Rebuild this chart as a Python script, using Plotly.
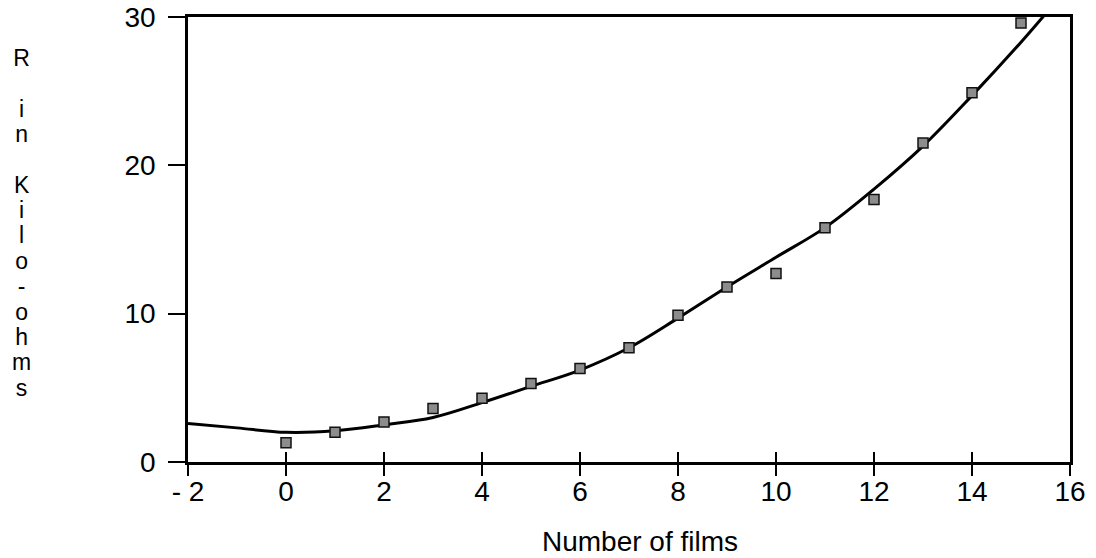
import plotly.graph_objects as go

# Measured data
films = [0, 1, 2, 3, 4, 5, 6, 7, 8, 9, 10, 11, 12, 13, 14, 15]
resistance = [1.3, 2.0, 2.7, 3.6, 4.3, 5.3, 6.3, 7.7, 9.9, 11.8, 12.7, 15.8, 17.7, 21.5, 24.9, 29.6]

# Fitted curve
fit_x = [-2, -1, 0, 1, 2, 3, 4, 5, 6, 7, 8, 9, 10, 11, 12, 13, 14, 15, 15.6]
fit_y = [2.6, 2.3, 2.0, 2.1, 2.5, 3.0, 4.0, 5.1, 6.2, 7.7, 9.7, 11.8, 13.8, 15.8, 18.4, 21.3, 24.7, 28.3, 30.6]

x_ticks = [-2, 0, 2, 4, 6, 8, 10, 12, 14, 16]
x_tick_text = ["- 2", "0", "2", "4", "6", "8", "10", "12", "14", "16"]
y_ticks = [0, 10, 20, 30]

x_title = "Number of films"
# stacked y title, one line per character ("" = blank line)
y_title_lines = ["R", "", "i", "n", "", "K", "i", "l", "o", "-", "o", "h", "m", "s"]

W, H = 1096, 558
ML, MR, MT, MB = 188, 26, 17, 96
plot_w = W - ML - MR
plot_h = H - MT - MB

font_main = "Liberation Sans, Arial, Helvetica, sans-serif"


def px_to_paper_x(px):
    return (px - ML) / plot_w


def px_to_paper_y(py):
    return (H - MB - py) / plot_h


fig = go.Figure()
fig.add_trace(go.Scatter(
    x=fit_x, y=fit_y, mode="lines",
    line=dict(color="black", width=3, shape="spline"),
    showlegend=False, hoverinfo="skip",
))
fig.add_trace(go.Scatter(
    x=films, y=resistance, mode="markers",
    marker=dict(symbol="square", size=10, color="#8c8c8c",
                line=dict(color="#111111", width=1.5)),
    showlegend=False,
))
# invisible trace on an overlay axis that carries the inward ticks
fig.add_trace(go.Scatter(x=[-2], y=[0], xaxis="x2", mode="markers",
                         marker=dict(opacity=0), showlegend=False, hoverinfo="skip"))

y_title_html = "<br>".join(
    f'<span style="font-size:23px">{c}</span>' if c else " " for c in y_title_lines
)

annotations = [
    dict(
        text=y_title_html, xref="paper", yref="paper",
        x=px_to_paper_x(21), y=px_to_paper_y(43),
        xanchor="center", yanchor="top", align="center", showarrow=False,
        font=dict(family=font_main, size=19.5, color="black"),
    ),
    dict(
        text=x_title, xref="paper", yref="paper",
        x=px_to_paper_x(640), y=px_to_paper_y(541),
        xanchor="center", yanchor="middle", showarrow=False,
        font=dict(family=font_main, size=28, color="black"),
    ),
]

fig.update_layout(
    width=W, height=H,
    margin=dict(l=ML, r=MR, t=MT, b=MB),
    paper_bgcolor="white", plot_bgcolor="white",
    xaxis=dict(
        range=[-2, 16], tickvals=x_ticks, ticktext=x_tick_text,
        showgrid=False, zeroline=False, automargin=False,
        showline=True, linecolor="black", linewidth=2.5, mirror=True,
        ticks="outside", ticklen=11, tickwidth=2, tickcolor="black",
        ticklabelstandoff=-8,
        tickfont=dict(family=font_main, size=28, color="black"),
    ),
    xaxis2=dict(
        range=[-2, 16], overlaying="x", matches="x", side="bottom",
        tickvals=x_ticks, showticklabels=False, showgrid=False, zeroline=False,
        automargin=False,
        ticks="inside", ticklen=10, tickwidth=2, tickcolor="black",
    ),
    yaxis=dict(
        range=[0, 30], tickvals=y_ticks,
        showgrid=False, zeroline=False, automargin=False,
        showline=True, linecolor="black", linewidth=2.5, mirror=True,
        ticks="outside", ticklen=17, tickwidth=2, tickcolor="black",
        ticklabelstandoff=7,
        tickfont=dict(family=font_main, size=28, color="black"),
    ),
    annotations=annotations,
)

fig.write_html(
    "out.html",
    config={"displayModeBar": False},
    post_script="document.body.style.margin='0';document.body.style.overflow='hidden';",
)
